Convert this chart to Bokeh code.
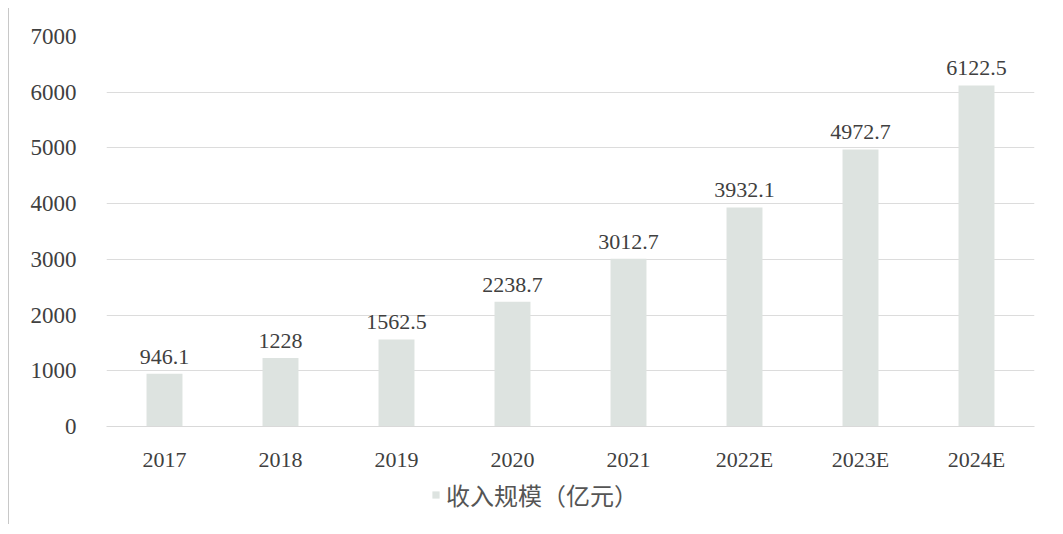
from bokeh.plotting import figure
from bokeh.layouts import column
from bokeh.models import ColumnDataSource, LabelSet, Legend, LegendItem, Range1d, FixedTicker
from bokeh.embed import file_html
from bokeh.resources import INLINE

categories = ["2017", "2018", "2019", "2020", "2021", "2022E", "2023E", "2024E"]
revenue = [946.1, 1228, 1562.5, 2238.7, 3012.7, 3932.1, 4972.7, 6122.5]
labels = ["946.1", "1228", "1562.5", "2238.7", "3012.7", "3932.1", "4972.7", "6122.5"]
y_ticks = [0, 1000, 2000, 3000, 4000, 5000, 6000, 7000]
series_name = "收入规模（亿元）"

BAR_COLOR = "#dde3e0"
TEXT_COLOR = "#404040"
SERIF = "Liberation Serif"

src = ColumnDataSource(dict(cat=categories, val=revenue, lab=labels))

p = figure(x_range=categories, y_range=Range1d(0, 7000), width=1045, height=466,
           output_backend="svg", toolbar_location=None,
           min_border_left=97, min_border_right=20, min_border_top=28, min_border_bottom=40)
p.outline_line_color = None

r = p.vbar(x="cat", top="val", width=0.31, source=src, fill_color=BAR_COLOR, line_color=None)

lbl = LabelSet(x="cat", y="val", text="lab", source=src, text_align="center", text_baseline="bottom",
               y_offset=10, text_font=SERIF, text_font_size="22px", text_color=TEXT_COLOR)
p.add_layout(lbl)

p.yaxis.ticker = FixedTicker(ticks=y_ticks)
p.yaxis.axis_line_color = None
p.yaxis.major_tick_line_color = None
p.yaxis.minor_tick_line_color = None
p.yaxis.major_label_standoff = 24
p.yaxis.major_label_text_font = SERIF
p.yaxis.major_label_text_font_size = "23px"
p.yaxis.major_label_text_color = TEXT_COLOR

p.xaxis.axis_line_color = "#d9d9d9"
p.xaxis.major_tick_line_color = None
p.xaxis.minor_tick_line_color = None
p.xaxis.major_label_standoff = 14
p.xaxis.major_label_text_font = SERIF
p.xaxis.major_label_text_font_size = "22px"
p.xaxis.major_label_text_color = TEXT_COLOR

p.xgrid.grid_line_color = None
p.ygrid.grid_line_color = "#dcdcdc"
p.ygrid.grid_line_width = 1

# legend strip below the chart
q = figure(width=1045, height=50, x_range=Range1d(0, 1), y_range=Range1d(0, 1),
           output_backend="svg", toolbar_location=None,
           min_border_left=0, min_border_right=0, min_border_top=0, min_border_bottom=0)
q.axis.visible = False
q.grid.visible = False
q.outline_line_color = None
dummy = q.vbar(x=[0.5], top=[0], width=0.1, fill_color=BAR_COLOR, line_color=None)
legend = Legend(items=[LegendItem(label=series_name, renderers=[dummy])], orientation="horizontal",
                location=(325, 12), border_line_color=None, background_fill_alpha=0,
                label_text_font="Noto Sans CJK SC", label_text_font_size="24px",
                label_text_color="#555555", glyph_width=9, glyph_height=9,
                label_standoff=6, margin=0, padding=2)
q.add_layout(legend)

layout = column(p, q, spacing=0)
layout.styles = {"margin-left": "8px", "margin-top": "8px", "border-left": "1px solid #c8c8c8"}

open("out.html", "w").write(file_html(layout, INLINE))
